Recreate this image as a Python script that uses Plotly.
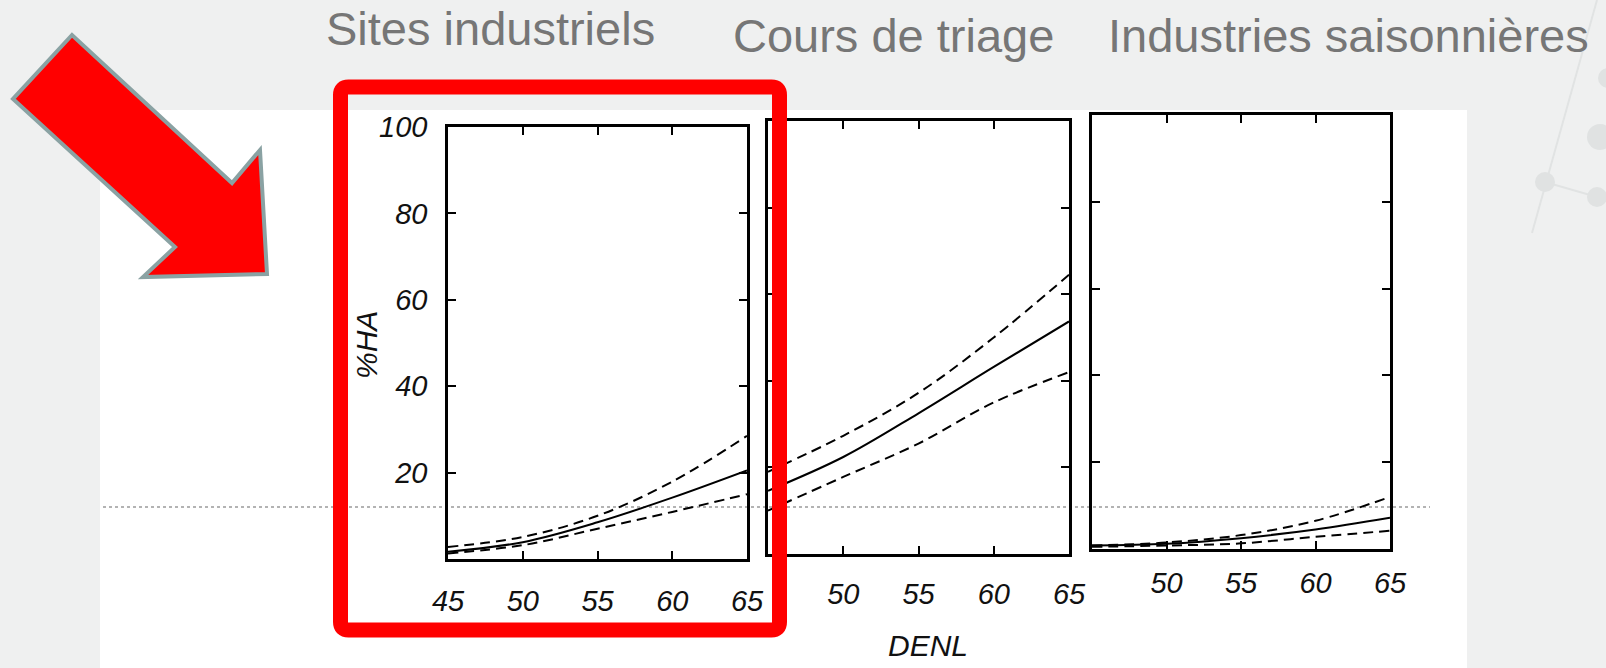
import plotly.graph_objects as go

W, H = 1606, 668

# ---------------- data ----------------
titles = ["Sites industriels", "Cours de triage", "Industries saisonnières"]
denl = [45, 50, 55, 60, 65]

sites_mid = [1.7, 3.9, 8.5, 14.2, 20.5]
sites_up = [2.8, 5.1, 10.0, 17.9, 28.5]
sites_low = [1.3, 3.2, 7.0, 10.9, 15.0]

triage_mid = [14.6, 22.4, 32.5, 43.2, 53.7]
triage_up = [19.0, 27.3, 37.2, 50.0, 64.5]
triage_low = [10.0, 17.8, 25.5, 35.0, 42.0]

saison_mid = [0.8, 1.2, 2.5, 4.5, 7.2]
saison_up = [0.8, 1.5, 3.2, 6.5, 12.0]
saison_low = [0.5, 0.8, 1.3, 2.8, 4.2]

x_ticks_first = [45, 50, 55, 60, 65]
x_ticks_other = [50, 55, 60, 65]
y_ticks_first = [20, 40, 60, 80, 100]
y_ticks_other = [20, 40, 60, 80]


def px(x):
    return x / W


def py(y):
    return 1 - y / H


# panel pixel boxes (left, right, top, bottom)
boxes = [(448, 747, 127, 559), (768, 1069, 121, 554), (1092, 1390, 115, 549)]
x_standoff = [14, 12, 6]

fig = go.Figure()

series = [(sites_mid, sites_up, sites_low),
          (triage_mid, triage_up, triage_low),
          (saison_mid, saison_up, saison_low)]

for i, (mid, up, low) in enumerate(series):
    xa = "x" if i == 0 else f"x{i+1}"
    ya = "y" if i == 0 else f"y{i+1}"
    for vals, dash in [(up, "10px,6px"), (mid, "solid"), (low, "10px,6px")]:
        fig.add_trace(go.Scatter(
            x=denl, y=vals, xaxis=xa, yaxis=ya, mode="lines",
            line=dict(color="black", width=2, dash=dash, shape="spline", smoothing=1),
            showlegend=False, hoverinfo="skip"))

tickfont = dict(family="Liberation Sans", size=29, color="#111", style="italic")

for i, (l, r, t, b) in enumerate(boxes):
    common = dict(showline=True, linecolor="black", linewidth=2.5, mirror="ticks",
                  ticks="inside", ticklen=8, tickwidth=1.6, tickcolor="black",
                  showgrid=False, zeroline=False, tickfont=tickfont, fixedrange=True,
                  automargin=False)
    xkey = "xaxis" if i == 0 else f"xaxis{i+1}"
    ykey = "yaxis" if i == 0 else f"yaxis{i+1}"
    yanchor = "y" if i == 0 else f"y{i+1}"
    xanchor = "x" if i == 0 else f"x{i+1}"
    fig.update_layout(**{
        xkey: dict(common, domain=[px(l), px(r)], range=[45, 65], anchor=yanchor,
                   tickvals=x_ticks_first if i == 0 else x_ticks_other,
                   ticklabelstandoff=x_standoff[i]),
        ykey: dict(common, domain=[py(b), py(t)], range=[0, 100], anchor=xanchor,
                   tickvals=y_ticks_first if i == 0 else y_ticks_other,
                   showticklabels=(i == 0), ticklabelstandoff=12),
    })

shapes = []
# white scanned-image area
shapes.append(dict(type="rect", xref="paper", yref="paper", layer="below",
                   x0=px(100), x1=px(1467), y0=py(668), y1=py(110),
                   fillcolor="white", line=dict(width=0)))
# dotted horizontal line across the scan
shapes.append(dict(type="line", xref="paper", yref="paper", layer="below",
                   x0=px(103), x1=px(1430), y0=py(507), y1=py(507),
                   line=dict(color="#9a9a9a", width=1.5, dash="dot")))

# background decoration (right)
deco = "#e1e3e3"
shapes.append(dict(type="line", xref="paper", yref="paper", layer="below",
                   x0=px(1597), y0=py(0), x1=px(1532), y1=py(233),
                   line=dict(color=deco, width=2)))
shapes.append(dict(type="line", xref="paper", yref="paper", layer="below",
                   x0=px(1545), y0=py(182), x1=px(1597), y1=py(197),
                   line=dict(color=deco, width=2)))
for cx, cy, rr in [(1545, 182, 10), (1600, 137, 13), (1597, 197, 10), (1608, 78, 10)]:
    shapes.append(dict(type="circle", xref="paper", yref="paper", layer="below",
                       x0=px(cx - rr), x1=px(cx + rr), y0=py(cy + rr), y1=py(cy - rr),
                       fillcolor="#e0e2e2", line=dict(width=0)))

# red rounded highlight rectangle
x0, x1, y0, y1, r = 340.5, 779.5, 87, 630, 8
path = (f"M {px(x0 + r)},{py(y0)} L {px(x1 - r)},{py(y0)} "
        f"Q {px(x1)},{py(y0)} {px(x1)},{py(y0 + r)} "
        f"L {px(x1)},{py(y1 - r)} Q {px(x1)},{py(y1)} {px(x1 - r)},{py(y1)} "
        f"L {px(x0 + r)},{py(y1)} Q {px(x0)},{py(y1)} {px(x0)},{py(y1 - r)} "
        f"L {px(x0)},{py(y0 + r)} Q {px(x0)},{py(y0)} {px(x0 + r)},{py(y0)} Z")
shapes.append(dict(type="path", xref="paper", yref="paper", layer="above", path=path,
                   line=dict(color="#ff0000", width=15)))

# red arrow
arrow_pts = [(72, 35), (13, 99), (175, 247), (143, 277), (267, 274), (260, 150), (232, 183)]
apath = "M " + " L ".join(f"{px(a)},{py(b)}" for a, b in arrow_pts) + " Z"
shapes.append(dict(type="path", xref="paper", yref="paper", layer="above", path=apath,
                   fillcolor="#ff0000", line=dict(color="#8aa2a3", width=4)))

annotations = []
title_pos = [(490, 28), (893, 36), (1348, 35)]
for text, (tx, ty) in zip(titles, title_pos):
    annotations.append(dict(text=text, x=px(tx), y=py(ty), xref="paper", yref="paper",
                            xanchor="center", yanchor="middle", showarrow=False,
                            font=dict(family="Liberation Sans", size=47, color="#767676")))
annotations.append(dict(text="%HA", x=px(366), y=py(345), xref="paper", yref="paper",
                        xanchor="center", yanchor="middle", showarrow=False, textangle=-90,
                        font=dict(family="Liberation Sans", size=30, color="#111", style="italic")))
annotations.append(dict(text="DENL", x=px(928), y=py(645), xref="paper", yref="paper",
                        xanchor="center", yanchor="middle", showarrow=False,
                        font=dict(family="Liberation Sans", size=30, color="#111", style="italic")))

fig.update_layout(width=W, height=H, autosize=False,
                  margin=dict(l=0, r=0, t=0, b=0, pad=0),
                  paper_bgcolor="#eff0f0", plot_bgcolor="rgba(0,0,0,0)",
                  shapes=shapes, annotations=annotations, showlegend=False)

fig.write_html("out.html", config={"displayModeBar": False},
               post_script="document.body.style.margin='0';document.body.style.overflow='hidden';")
